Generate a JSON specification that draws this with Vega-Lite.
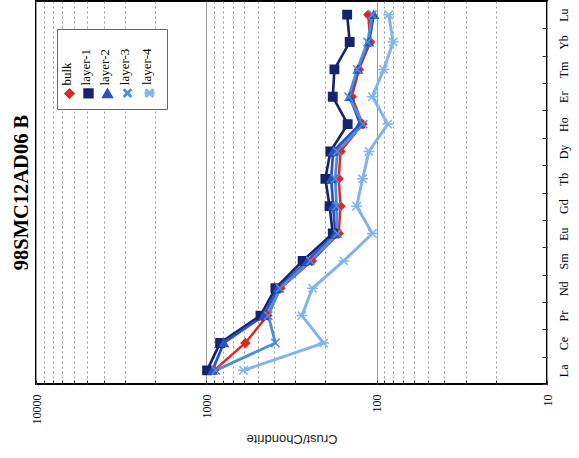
{
  "$schema": "https://vega.github.io/schema/vega-lite/v6.json",
  "autosize": "none",
  "padding": {"left": 36, "top": 1, "right": 32, "bottom": 74},
  "width": 511,
  "height": 383,
  "background": "white",
  "title": {"text": "98SMC12AD06 B", "orient": "left", "anchor": "middle", "font": "Liberation Serif", "fontSize": 20.5, "fontWeight": "bold", "color": "black", "offset": -2},
  "config": {"view": {"stroke": "black", "strokeWidth": 2}},
  "data": {"values": [
    {"el": "La", "series": "bulk", "v": 900}, {"el": "La", "series": "layer-1", "v": 990}, {"el": "La", "series": "layer-2", "v": 920}, {"el": "La", "series": "layer-3", "v": 880}, {"el": "La", "series": "layer-4", "v": 605},
    {"el": "Ce", "series": "bulk", "v": 590}, {"el": "Ce", "series": "layer-1", "v": 830}, {"el": "Ce", "series": "layer-2", "v": 790}, {"el": "Ce", "series": "layer-3", "v": 393}, {"el": "Ce", "series": "layer-4", "v": 205},
    {"el": "Pr", "series": "bulk", "v": 438}, {"el": "Pr", "series": "layer-1", "v": 481}, {"el": "Pr", "series": "layer-2", "v": 460}, {"el": "Pr", "series": "layer-3", "v": 433}, {"el": "Pr", "series": "layer-4", "v": 275},
    {"el": "Nd", "series": "bulk", "v": 367}, {"el": "Nd", "series": "layer-1", "v": 393}, {"el": "Nd", "series": "layer-2", "v": 380}, {"el": "Nd", "series": "layer-3", "v": 370}, {"el": "Nd", "series": "layer-4", "v": 238},
    {"el": "Sm", "series": "bulk", "v": 240}, {"el": "Sm", "series": "layer-1", "v": 272}, {"el": "Sm", "series": "layer-2", "v": 255}, {"el": "Sm", "series": "layer-3", "v": 245}, {"el": "Sm", "series": "layer-4", "v": 156},
    {"el": "Eu", "series": "bulk", "v": 167}, {"el": "Eu", "series": "layer-1", "v": 181}, {"el": "Eu", "series": "layer-2", "v": 175}, {"el": "Eu", "series": "layer-3", "v": 170}, {"el": "Eu", "series": "layer-4", "v": 106},
    {"el": "Gd", "series": "bulk", "v": 163}, {"el": "Gd", "series": "layer-1", "v": 189}, {"el": "Gd", "series": "layer-2", "v": 180}, {"el": "Gd", "series": "layer-3", "v": 172}, {"el": "Gd", "series": "layer-4", "v": 131},
    {"el": "Tb", "series": "bulk", "v": 167}, {"el": "Tb", "series": "layer-1", "v": 200}, {"el": "Tb", "series": "layer-2", "v": 185}, {"el": "Tb", "series": "layer-3", "v": 175}, {"el": "Tb", "series": "layer-4", "v": 121},
    {"el": "Dy", "series": "bulk", "v": 163}, {"el": "Dy", "series": "layer-1", "v": 187}, {"el": "Dy", "series": "layer-2", "v": 180}, {"el": "Dy", "series": "layer-3", "v": 170}, {"el": "Dy", "series": "layer-4", "v": 111},
    {"el": "Ho", "series": "bulk", "v": 121}, {"el": "Ho", "series": "layer-1", "v": 148}, {"el": "Ho", "series": "layer-2", "v": 125}, {"el": "Ho", "series": "layer-3", "v": 120}, {"el": "Ho", "series": "layer-4", "v": 86},
    {"el": "Er", "series": "bulk", "v": 140}, {"el": "Er", "series": "layer-1", "v": 181}, {"el": "Er", "series": "layer-2", "v": 144}, {"el": "Er", "series": "layer-3", "v": 146}, {"el": "Er", "series": "layer-4", "v": 106},
    {"el": "Tm", "series": "bulk", "v": 127}, {"el": "Tm", "series": "layer-1", "v": 177}, {"el": "Tm", "series": "layer-2", "v": 129}, {"el": "Tm", "series": "layer-3", "v": 130}, {"el": "Tm", "series": "layer-4", "v": 91},
    {"el": "Yb", "series": "bulk", "v": 109}, {"el": "Yb", "series": "layer-1", "v": 144}, {"el": "Yb", "series": "layer-2", "v": 111}, {"el": "Yb", "series": "layer-3", "v": 113}, {"el": "Yb", "series": "layer-4", "v": 80},
    {"el": "Lu", "series": "bulk", "v": 112}, {"el": "Lu", "series": "layer-1", "v": 149}, {"el": "Lu", "series": "layer-2", "v": 104}, {"el": "Lu", "series": "layer-3", "v": 106}, {"el": "Lu", "series": "layer-4", "v": 85}
  ]},
  "encoding": {
    "y": {
      "field": "el", "type": "ordinal",
      "scale": {"type": "band", "domain": ["La", "Ce", "Pr", "Nd", "Sm", "Eu", "Gd", "Tb", "Dy", "Ho", "Er", "Tm", "Yb", "Lu"], "reverse": true, "paddingInner": 0, "paddingOuter": 0},
      "bandPosition": 0.5,
      "axis": {"orient": "right", "title": null, "labelAngle": -90, "labelAlign": "center", "labelBaseline": "top", "labelFont": "Liberation Serif", "labelFontSize": 12, "labelColor": "black", "labelPadding": 16, "tickBand": "extent", "tickSize": -5, "tickColor": "#333", "domain": false, "grid": false}
    },
    "x": {
      "field": "v", "type": "quantitative",
      "scale": {"type": "log", "domain": [10, 10000], "reverse": true, "nice": false},
      "axis": {
        "orient": "bottom",
        "values": [10, 20, 30, 40, 50, 60, 70, 80, 90, 100, 200, 300, 400, 500, 600, 700, 800, 900, 1000, 2000, 3000, 4000, 5000, 6000, 7000, 8000, 9000, 10000],
        "grid": true, "gridColor": "#9a9a9a", "gridWidth": 1,
        "gridDash": {"condition": {"test": "indexof([10,100,1000,10000], datum.value) >= 0", "value": []}, "value": [2, 3]},
        "labelExpr": "indexof([10,100,1000,10000], datum.value) >= 0 ? format(datum.value, 'd') : ''",
        "labelAngle": -90, "labelAlign": "right", "labelBaseline": "middle", "labelFlush": false, "labelOverlap": false,
        "labelFont": "Liberation Serif", "labelFontSize": 12, "labelColor": "black", "labelPadding": 14,
        "ticks": true, "tickSize": -4, "tickColor": "#333", "domain": false,
        "title": "Crust/Chondrite", "titleAngle": 180, "titleFont": "Liberation Sans", "titleFontSize": 13, "titleFontWeight": "normal", "titleColor": "#222", "titlePadding": 20
      }
    },
    "color": {
      "field": "series", "type": "nominal",
      "scale": {"domain": ["bulk", "layer-1", "layer-2", "layer-3", "layer-4"], "range": ["#e0281e", "#14246e", "#2a52c8", "#4a8ee0", "#80b4ee"]},
      "legend": {
        "orient": "none", "legendX": 21, "legendY": 28, "direction": "horizontal", "title": null,
        "fillColor": "white", "strokeColor": "#666", "padding": 6,
        "labelFont": "Liberation Serif", "labelFontSize": 13, "labelColor": "black",
        "symbolSize": 60, "symbolStrokeWidth": 1.5, "columnPadding": 0,
        "encode": {
          "labels": {"update": {"angle": {"value": -90}, "align": {"value": "left"}, "baseline": {"value": "middle"}, "x": {"value": 4}, "y": {"value": 50}}},
          "symbols": {"update": {"y": {"value": 58}, "stroke": {"scale": "color", "field": "value"}}}
        }
      }
    }
  },
  "layer": [
    {
      "mark": {"type": "line", "clip": true},
      "encoding": {
        "strokeWidth": {"field": "series", "type": "nominal", "scale": {"domain": ["bulk", "layer-1", "layer-2", "layer-3", "layer-4"], "range": [2.5, 3, 2.5, 1.5, 1.5]}, "legend": null}
      }
    },
    {
      "mark": {"type": "point", "filled": true, "opacity": 1, "strokeWidth": 1.5},
      "encoding": {
        "shape": {"field": "series", "type": "nominal", "scale": {"domain": ["bulk", "layer-1", "layer-2", "layer-3", "layer-4"], "range": ["diamond", "square", "triangle-up", "M-1,-1L1,1M-1,1L1,-1", "M-1,-1L1,1M-1,1L1,-1M-1.3,0L1.3,0"]}},
        "stroke": {"field": "series", "type": "nominal", "scale": {"domain": ["bulk", "layer-1", "layer-2", "layer-3", "layer-4"], "range": ["#e0281e", "#14246e", "#2a52c8", "#4a8ee0", "#80b4ee"]}, "legend": null},
        "size": {"value": 70}
      }
    }
  ]
}
